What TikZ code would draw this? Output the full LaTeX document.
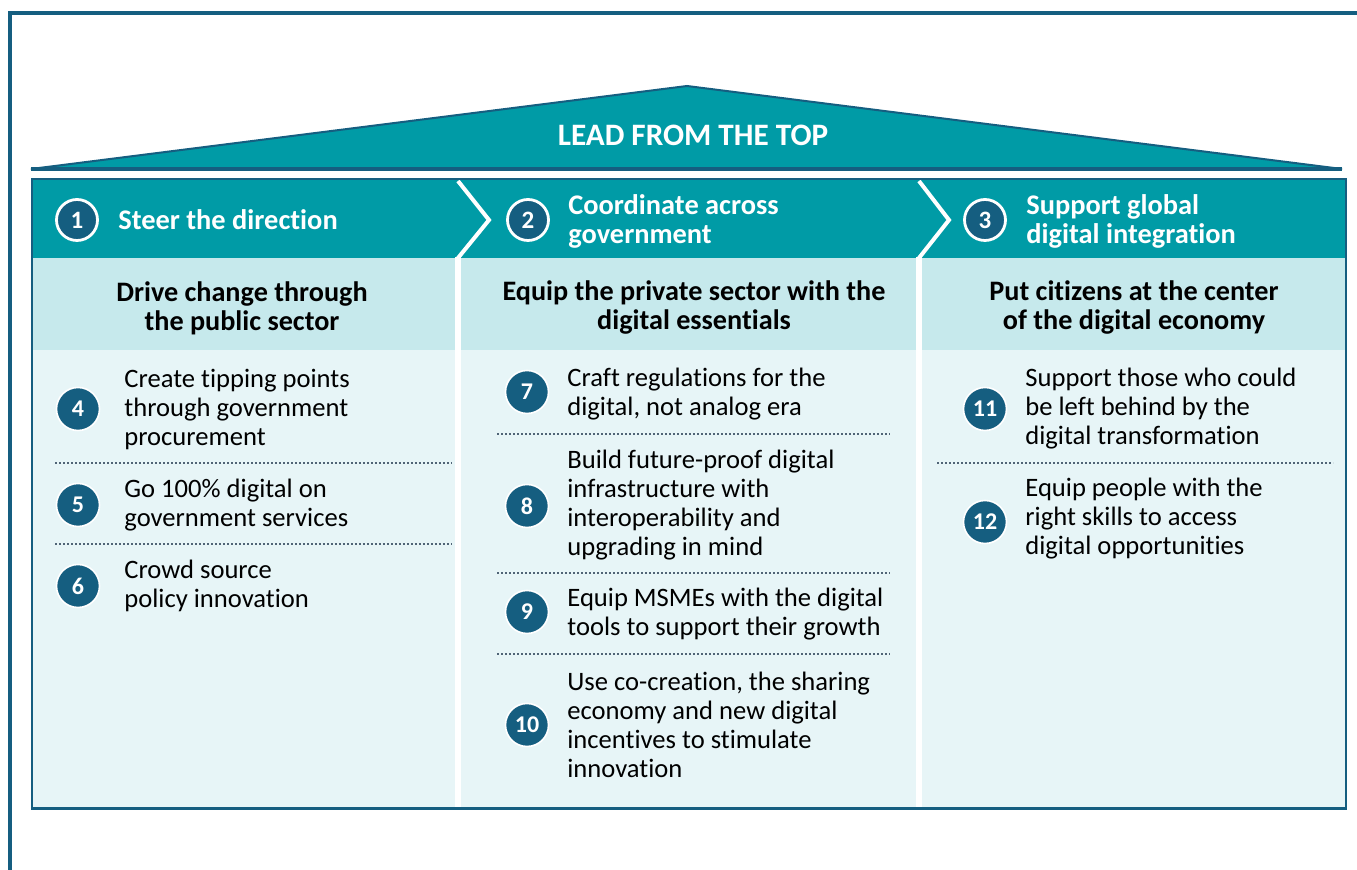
\documentclass[tikz,border=0pt]{standalone}
\usepackage{fontspec}
\setmainfont{Carlito}[Ligatures={NoCommon}]
\definecolor{roofteal}{RGB}{0,155,166}
\definecolor{frameblue}{RGB}{21,94,128}
\definecolor{bandlight}{RGB}{198,233,236}
\definecolor{bodylight}{RGB}{231,245,247}
\definecolor{dotgray}{RGB}{80,100,118}
\begin{document}
\begin{tikzpicture}[x=0.5pt,y=-0.5pt,
  numdot/.style={circle, fill=frameblue, draw=white, line width=0.8pt, minimum size=21.5pt, inner sep=0pt, text=white, font=\bfseries\fontsize{12}{12}\selectfont},
  headnum/.style={numdot, line width=1.4pt, minimum size=20.5pt, font=\bfseries\fontsize{12.5}{12.5}\selectfont},
  itemtext/.style={anchor=west, align=left, inner sep=0pt, font=\fontsize{13.3}{14.5}\selectfont},
  headtext/.style={itemtext, text=white, font=\bfseries\fontsize{14.2}{14.5}\selectfont},
  subtext/.style={align=center, inner sep=0pt, font=\bfseries\fontsize{14.1}{14.5}\selectfont},
  sepline/.style={dotgray, line width=0.8pt, dash pattern=on 0.9pt off 1.1pt}]
\useasboundingbox (0,0) rectangle (1357,870);

% Outer frame
\draw[frameblue, line width=2pt] (10,870) -- (10,13) -- (1357,13);

% Roof
\coordinate (RL) at (31,169);
\coordinate (RT) at (687,86);
\coordinate (RR) at (1342,169);
\filldraw[fill=roofteal, draw=frameblue, line width=1pt] (RL) -- (RT) -- (RR) -- cycle;
\draw[frameblue, line width=1.6pt] (RL) -- (RR);
\node[text=white, font=\bfseries\fontsize{15.6}{15.6}\selectfont] (roof) at (693,135) {LEAD FROM THE TOP};

% Bands
\fill[roofteal] (32,179) rectangle (1346,258);
\fill[bandlight] (32,258) rectangle (1346,350);
\fill[bodylight] (32,350) rectangle (1346,808);

% Column separators
\draw[white, line width=2pt] (458,181) -- (489,220) -- (458,258);
\draw[white, line width=3pt] (458,257) -- (458,807);
\draw[white, line width=2pt] (919,181) -- (949,220) -- (919,258);
\draw[white, line width=3pt] (919,257) -- (919,807);

% Box outline
\draw[frameblue, line width=1pt] (32,179) rectangle (1346,808);
\draw[frameblue, line width=1.6pt] (31,808.5) -- (1347,808.5);

% Header row
\node[headnum] (n1) at (77,220) {1};
\node[headtext] (h1) at (118,220) {Steer the direction};
\node[headnum] (n2) at (528,220) {2};
\node[headtext] (h2) at (568,221) {Coordinate across\\government};
\node[headnum] (n3) at (985,220) {3};
\node[headtext] (h3) at (1026,221) {Support global\\digital integration};

% Sub headers
\node[subtext] (s1) at (242,308) {Drive change through\\the public sector};
\node[subtext] (s2) at (694,308) {Equip the private sector with the\\digital essentials};
\node[subtext] (s3) at (1134,308) {Put citizens at the center\\of the digital economy};

% Column 1
\node[numdot] (n4) at (78,409) {4};
\node[itemtext] (t4) at (124,410) {Create tipping points\\through government\\procurement};
\draw[sepline] (55,463) -- (452,463);
\node[numdot] (n5) at (78,505) {5};
\node[itemtext] (t5) at (124,505) {Go 100\% digital on\\government services};
\draw[sepline] (55,544) -- (452,544);
\node[numdot] (n6) at (78,586) {6};
\node[itemtext] (t6) at (124,586) {Crowd source\\policy innovation};

% Column 2
\node[numdot] (n7) at (527,392) {7};
\node[itemtext] (t7) at (567,394) {Craft regulations for the\\digital, not analog era};
\draw[sepline] (497,434) -- (890,434);
\node[numdot] (n8) at (527,506) {8};
\node[itemtext] (t8) at (567,505) {Build future-proof digital\\infrastructure with\\interoperability and\\upgrading in mind};
\draw[sepline] (497,573) -- (890,573);
\node[numdot] (n9) at (527,612) {9};
\node[itemtext] (t9) at (567,614) {Equip MSMEs with the digital\\tools to support their growth};
\draw[sepline] (497,654) -- (890,654);
\node[numdot] (n10) at (527,725) {10};
\node[itemtext] (t10) at (567,725) {Use co-creation, the sharing\\economy and new digital\\incentives to stimulate\\innovation};

% Column 3
\node[numdot] (n11) at (985,409) {11};
\node[itemtext] (t11) at (1025,409) {Support those who could\\be left behind by the\\digital transformation};
\draw[sepline] (937,463) -- (1333,463);
\node[numdot] (n12) at (985,522) {12};
\node[itemtext] (t12) at (1025,519) {Equip people with the\\right skills to access\\digital opportunities};
\end{tikzpicture}
\end{document}
